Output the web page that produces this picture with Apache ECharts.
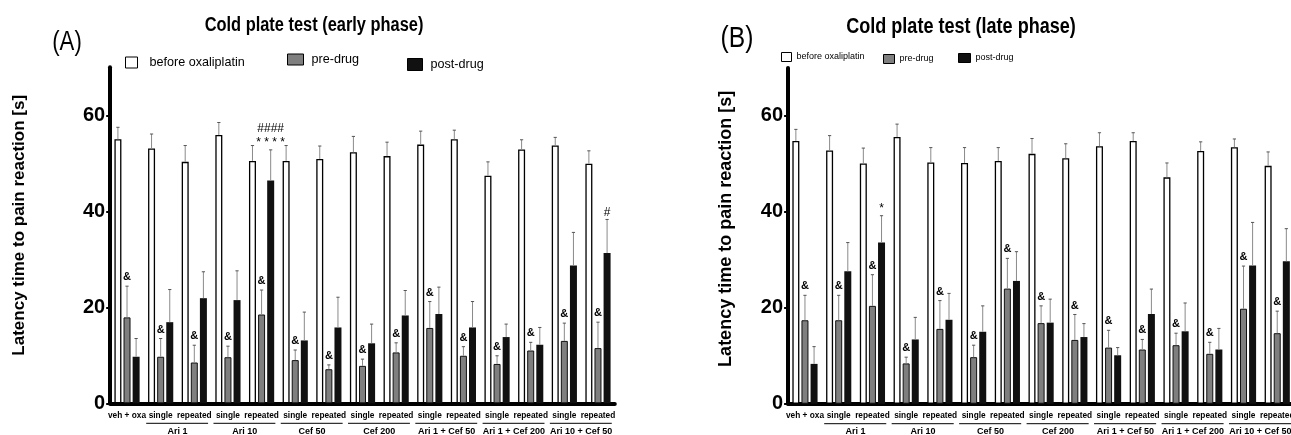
<!DOCTYPE html>
<html><head><meta charset="utf-8">
<script src="https://cdn.jsdelivr.net/npm/echarts@6.0.0/dist/echarts.min.js"></script>
<style>html,body{margin:0;padding:0;background:#fff}#c{width:1291px;height:435px}</style>
</head><body><div id="c"></div>
<script>
// ---------- data ----------
const categories = ['veh + oxa','single','repeated','single','repeated','single','repeated','single','repeated','single','repeated','single','repeated','single','repeated'];
const groupLabels = ['Ari 1','Ari 10','Cef 50','Cef 200','Ari 1 + Cef 50','Ari 1 + Cef 200','Ari 10 + Cef 50'];
const groupFirstIndex = [1,3,5,7,9,11,13];
const seriesNames = ['before oxaliplatin','pre-drug','post-drug'];

// Panel A: early phase (means and SEM)
const beforeA    = [55.0,53.1,50.3,55.9,50.5,50.5,50.9,52.3,51.5,53.9,55.0,47.4,52.9,53.7,49.9];
const beforeSemA = [2.5,3.0,3.4,2.6,3.2,3.2,2.7,3.3,2.9,2.8,1.9,2.9,2.0,1.7,2.7];
const preA       = [17.9,9.7,8.5,9.6,18.5,9.0,7.1,7.8,10.6,15.7,9.9,8.2,11.0,13.0,11.5];
const preSemA    = [6.5,3.8,3.6,2.3,5.1,2.1,0.9,1.4,2.0,5.5,1.9,1.7,1.7,3.7,5.4];
const postA      = [9.7,16.9,21.9,21.5,46.4,13.1,15.8,12.5,18.3,18.6,15.8,13.8,12.2,28.7,31.3];
const postSemA   = [3.8,6.8,5.5,6.1,6.4,5.9,6.3,4.0,5.2,5.6,5.4,2.7,3.6,6.9,7.0];
const preMarkA   = ['&','&','&','&','&','&','&','&','&','&','&','&','&','&','&'];
const postMarkA  = ['','','','','####\n* * * *','','','','','','','','','','#'];

// Panel B: late phase (means and SEM)
const beforeB    = [54.8,52.8,50.1,55.6,50.3,50.2,50.6,52.1,51.2,53.7,54.8,47.2,52.7,53.5,49.6];
const beforeSemB = [2.4,3.1,3.2,2.7,3.1,3.2,2.8,3.2,3.0,2.8,1.7,3.0,1.9,1.7,2.9];
const preB       = [17.4,17.4,20.4,8.4,15.6,9.7,24.0,16.8,13.3,11.7,11.3,12.2,10.4,19.8,14.7];
const preSemB    = [5.2,5.2,6.5,1.3,5.9,2.5,6.3,3.6,5.3,3.6,2.1,2.5,2.4,8.9,4.6];
const postB      = [8.3,27.6,33.6,13.4,17.5,15.0,25.6,16.9,13.9,10.1,18.7,15.1,11.3,28.8,29.7];
const postSemB   = [3.6,6.0,5.6,4.6,5.5,5.4,6.1,4.9,2.8,1.6,5.2,5.9,4.4,9.0,6.8];
const preMarkB   = ['&','&','&','&','&','&','&','&','&','&','&','&','&','&','&'];
const postMarkB  = ['','','*','','','','','','','','','','','',''];

const yMin = 0, yMax = 70, yStep = 20;

// ---------- styles ----------
const SANS = "'Liberation Sans',Arial,sans-serif";
const NARROW_SCALE = 0.82;
const BAR_W = 7, BAR_GAP = 0.3, BAR_STEP = BAR_W * (1 + BAR_GAP);
const barStyles = [
  {color:'#ffffff', borderColor:'#000', borderWidth:1.3},
  {color:'#7f7f7f', borderColor:'#111', borderWidth:1},
  {color:'#111111', borderColor:'#111', borderWidth:0}
];

function errRender(slot, means, sems, marks) {
  return function (params, api) {
    const i = params.dataIndex;
    const base = api.coord([i, means[i]]);
    const top = api.coord([i, means[i] + sems[i]]);
    const x = base[0] + (slot - 1) * BAR_STEP;
    const ch = [
      {type:'line', shape:{x1:x, y1:base[1], x2:x, y2:top[1]}, style:{stroke:'#8a8a8a', lineWidth:1}},
      {type:'line', shape:{x1:x-1.6, y1:top[1], x2:x+1.6, y2:top[1]}, style:{stroke:'#555', lineWidth:1}}
    ];
    const m = marks[i];
    if (m) {
      const isAmp = m === '&';
      ch.push({type:'text', x:x, y: top[1] - (isAmp ? 2 : 0),
        style:{text:m, fill:'#000', align:'center', verticalAlign:'bottom',
          font: isAmp ? ('bold 11px ' + SANS) : ('12px ' + SANS), lineHeight:14}});
    }
    return {type:'group', children:ch};
  };
}

function groupRender(params, api) {
  const i = params.dataIndex;
  const a = api.coord([groupFirstIndex[i], 0]);
  const b = api.coord([groupFirstIndex[i] + 1, 0]);
  const band = api.size([1, 0])[0];
  const y = a[1] + 20;
  return {type:'group', children:[
    {type:'line', shape:{x1:a[0]-0.43*band, y1:y, x2:b[0]+0.41*band, y2:y}, style:{stroke:'#000', lineWidth:1}},
    {type:'text', x:(a[0]+b[0])/2, y:y+3.5, style:{text:groupLabels[i], fill:'#000', align:'center', verticalAlign:'top', font:'bold 9px ' + SANS}}
  ]};
}

function panelSeries(p, vals, sems, marks) {
  const out = [];
  vals.forEach((v, k) => {
    const s = {type:'bar', name:seriesNames[k], xAxisIndex:p, yAxisIndex:p, data:v,
      barWidth:BAR_W, itemStyle:barStyles[k], z:2, emphasis:{disabled:true}};
    if (k === 0) s.barGap = (BAR_GAP*100) + '%';
    out.push(s);
  });
  vals.forEach((v, k) => {
    out.push({type:'custom', xAxisIndex:p, yAxisIndex:p, z:3, silent:true,
      renderItem: errRender(k, v, sems[k], marks[k]),
      data: v.map((m, i) => [i, m + sems[k][i]]), encode:{x:0, y:1}});
  });
  out.push({type:'custom', xAxisIndex:p, yAxisIndex:p, z:3, silent:true,
    renderItem: groupRender, data: groupFirstIndex.map(i => [i, 0]), encode:{x:0, y:1}});
  return out;
}

function xAxis(g) {
  return {type:'category', gridIndex:g, data:categories, boundaryGap:true,
    axisLine:{lineStyle:{color:'#000', width:4}},
    axisTick:{alignWithLabel:true, length:3, lineStyle:{color:'#000', width:3}},
    axisLabel:{interval:0, margin:8, color:'#000', fontWeight:'bold', fontSize:8.3, fontFamily:SANS,
      hideOverlap:false}};
}
function yAxis(g, gap, fs, shift) {
  return {type:'value', gridIndex:g, min:yMin, max:yMax, interval:yStep,
    name:'Latency time to pain reaction [s]', nameLocation:'middle', nameGap:gap,
    nameTextStyle:{color:'#000', fontWeight:'bold', fontSize:fs, fontFamily:SANS, padding:[0,0,0,shift]},
    axisLine:{show:true, lineStyle:{color:'#000', width:4}},
    axisTick:{show:true, length:4, lineStyle:{color:'#000', width:2}},
    axisLabel:{color:'#000', fontWeight:'bold', fontSize:20, fontFamily:SANS, margin:5, showMaxLabel:false},
    splitLine:{show:false}};
}
function legendItem(name, left, top, w, h, fs, pad) {
  return {data:[name], left:left, top:top, padding:0, itemWidth:w, itemHeight:h, icon:'rect',
    selectedMode:false, itemStyle:{borderColor:'#000', borderWidth:1},
    textStyle:{color:'#000', fontSize:fs, fontFamily:SANS, padding:[0,0,0,pad]}};
}
function label(text, x, y, font) {
  return {type:'text', x:x, y:y, scaleX:NARROW_SCALE,
    style:{text:text, font:font, fill:'#000', align:'center', verticalAlign:'middle'}};
}

const chart = echarts.init(document.getElementById('c'), null, {renderer:'canvas'});
chart.setOption({
  animation:false,
  backgroundColor:'#fff',
  grid:[
    {left:110.2, top:67.3, width:504.6, height:336, outerBoundsMode:'none', containLabel:false},
    {left:788.1, top:68, width:506, height:335.7, outerBoundsMode:'none', containLabel:false}
  ],
  xAxis:[xAxis(0), xAxis(1)],
  yAxis:[yAxis(0, 82, 17, 20), yAxis(1, 53, 18, 14)],
  legend:[
    legendItem(seriesNames[0], 125, 56, 12, 11, 12.6, 7),
    legendItem(seriesNames[1], 287, 53, 16, 11, 12.6, 3),
    legendItem(seriesNames[2], 407, 58, 15, 12, 12.6, 3),
    legendItem(seriesNames[0], 781, 52, 10, 9, 9, 0),
    legendItem(seriesNames[1], 883, 54, 11, 9, 9, 0),
    legendItem(seriesNames[2], 958, 53, 12, 9, 9, 0)
  ],
  graphic:[
    label('(A)', 67, 43, '27px ' + SANS),
    label('Cold plate test (early phase)', 314, 25.5, 'bold 20px ' + SANS),
    label('(B)', 737, 39, '30px ' + SANS),
    label('Cold plate test (late phase)', 961, 27, 'bold 22px ' + SANS)
  ],
  series: [].concat(
    panelSeries(0, [beforeA, preA, postA], [beforeSemA, preSemA, postSemA], [[], preMarkA, postMarkA]),
    panelSeries(1, [beforeB, preB, postB], [beforeSemB, preSemB, postSemB], [[], preMarkB, postMarkB])
  )
});
</script>
</body></html>
